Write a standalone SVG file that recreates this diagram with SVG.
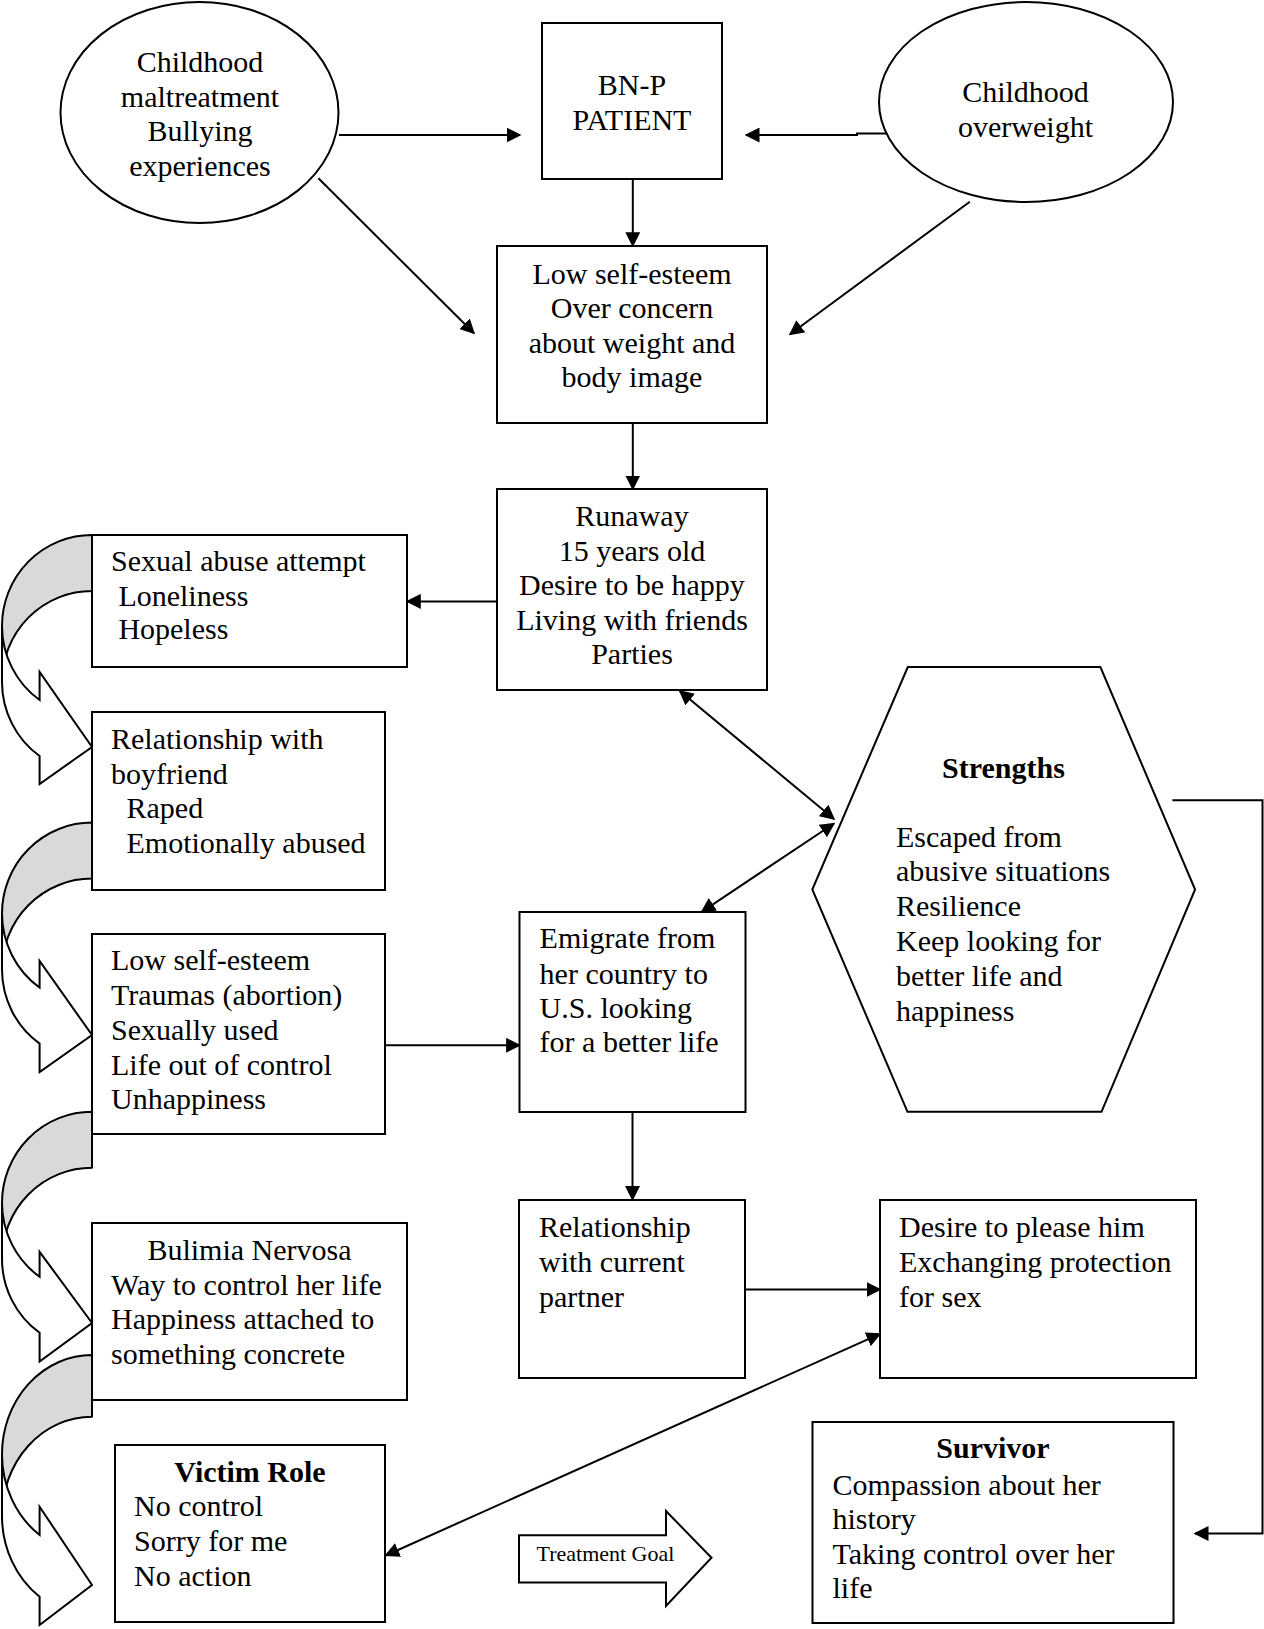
<svg xmlns="http://www.w3.org/2000/svg" width="1264" height="1629" viewBox="0 0 1264 1629">
<style>
.box{fill:#fff;stroke:#000;stroke-width:2}
.t{font-family:"Liberation Serif","Times New Roman",serif;font-size:30px;fill:#000}
.c{text-anchor:middle}
.b{font-weight:bold}
.sm{font-size:22px}
.ln{stroke:#000;stroke-width:2;fill:none}
.back{fill:#d9d9d9;stroke:#000;stroke-width:2;stroke-linejoin:round}
.front{fill:#fff;stroke:#000;stroke-width:2;stroke-linejoin:miter}
</style>
<defs>
<marker id="ah" markerUnits="userSpaceOnUse" viewBox="0 0 15 15" markerWidth="15" markerHeight="15" refX="13.5" refY="7.5" orient="auto-start-reverse">
<path d="M0,0 L15,7.5 L0,15 Z" fill="#000"/>
</marker>
</defs>
<rect width="1264" height="1629" fill="#fff"/>

<g id="curved-arrows">
<g id="ca1">
<path class="back" d="M92,535 A90,91 0 0 0 2,626 L2,682 A90,91 0 0 1 92,591 Z"/>
<path class="front" d="M2,626 A90,91 0 0 0 39.6,700 L39.6,672 L92,747 L39.6,784 L39.6,756 A90,91 0 0 1 2,682 Z"/>
</g>
<g id="ca2">
<path class="back" d="M92,822.6 A90,91 0 0 0 2,913.6 L2,969.6 A90,91 0 0 1 92,878.6 Z"/>
<path class="front" d="M2,913.6 A90,91 0 0 0 39.6,987.6 L39.6,961 L92,1035 L39.6,1072 L39.6,1043.6 A90,91 0 0 1 2,969.6 Z"/>
</g>
<g id="ca3">
<path class="back" d="M92,1111.8 A90,91 0 0 0 2,1202.8 L2,1258.8 A90,91 0 0 1 92,1167.8 Z"/>
<path class="front" d="M2,1202.8 A90,91 0 0 0 39.6,1276.8 L39.6,1251.8 L92,1323 L39.6,1361.5 L39.6,1332.8 A90,91 0 0 1 2,1258.8 Z"/>
</g>
<g id="ca4">
<path class="back" d="M92,1355 A90,99.3 0 0 0 2,1454.3 L2,1516 A90,99.3 0 0 1 92,1416.7 Z"/>
<path class="front" d="M2,1454.3 A90,99.3 0 0 0 39.6,1535 L39.6,1506.7 L92,1585 L39.6,1625 L39.6,1596.7 A90,99.3 0 0 1 2,1516 Z"/>
</g>
</g>

<g id="connectors">
<line class="ln" x1="339" y1="135" x2="520" y2="135" marker-end="url(#ah)"/>
<polyline class="ln" points="901,133.5 857,133.5 857,135 746,135" marker-end="url(#ah)"/>
<line class="ln" x1="632.8" y1="179" x2="632.8" y2="245.7" marker-end="url(#ah)"/>
<line class="ln" x1="632.8" y1="423" x2="632.8" y2="489" marker-end="url(#ah)"/>
<line class="ln" x1="318.4" y1="178.3" x2="474" y2="333.3" marker-end="url(#ah)"/>
<line class="ln" x1="969.8" y1="201.7" x2="790" y2="334.3" marker-end="url(#ah)"/>
<line class="ln" x1="497" y1="601.4" x2="407.3" y2="601.4" marker-end="url(#ah)"/>
<line class="ln" x1="679.8" y1="690.9" x2="834" y2="819" marker-start="url(#ah)" marker-end="url(#ah)"/>
<line class="ln" x1="834" y1="823.5" x2="701.7" y2="911.8" marker-start="url(#ah)" marker-end="url(#ah)"/>
<line class="ln" x1="385" y1="1045.3" x2="519.6" y2="1045.3" marker-end="url(#ah)"/>
<line class="ln" x1="632.5" y1="1112" x2="632.5" y2="1199.5" marker-end="url(#ah)"/>
<line class="ln" x1="745" y1="1289.6" x2="880" y2="1289.6" marker-end="url(#ah)"/>
<line class="ln" x1="385.7" y1="1555.5" x2="880" y2="1333.8" marker-start="url(#ah)" marker-end="url(#ah)"/>
<polyline class="ln" points="1172.4,800.3 1262.5,800.3 1262.5,1533.5 1195,1533.5" marker-end="url(#ah)"/>
</g>

<g id="childhood-maltreatment">
<ellipse class="box" cx="199.5" cy="112.5" rx="139" ry="110.5"/>
<text class="t c" x="200" y="72">Childhood</text>
<text class="t c" x="200" y="106.5">maltreatment</text>
<text class="t c" x="200" y="141">Bullying</text>
<text class="t c" x="200" y="175.5">experiences</text>
</g>

<g id="bnp-patient">
<rect class="box" x="542" y="23" width="180" height="156"/>
<text class="t c" x="632" y="95">BN-P</text>
<text class="t c" x="632" y="130">PATIENT</text>
</g>

<g id="childhood-overweight">
<ellipse class="box" cx="1026" cy="102" rx="147" ry="100"/>
<text class="t c" x="1025.5" y="102">Childhood</text>
<text class="t c" x="1025.5" y="136.5">overweight</text>
</g>

<g id="low-self-esteem-top">
<rect class="box" x="497" y="246" width="270" height="177"/>
<text class="t c" x="632" y="283.5">Low self-esteem</text>
<text class="t c" x="632" y="318">Over concern</text>
<text class="t c" x="632" y="352.5">about weight and</text>
<text class="t c" x="632" y="387">body image</text>
</g>

<g id="runaway">
<rect class="box" x="497" y="489" width="270" height="201"/>
<text class="t c" x="632" y="526">Runaway</text>
<text class="t c" x="632" y="560.5">15 years old</text>
<text class="t c" x="632" y="595">Desire to be happy</text>
<text class="t c" x="632" y="629.5">Living with friends</text>
<text class="t c" x="632" y="664">Parties</text>
</g>

<g id="sexual-abuse">
<rect class="box" x="92" y="535" width="315" height="132"/>
<text class="t" x="111" y="571">Sexual abuse attempt</text>
<text class="t" x="118.4" y="605.5">Loneliness</text>
<text class="t" x="118.4" y="639">Hopeless</text>
</g>

<g id="relationship-boyfriend">
<rect class="box" x="92" y="712" width="293" height="178"/>
<text class="t" x="111" y="749">Relationship with</text>
<text class="t" x="111" y="783.5">boyfriend</text>
<text class="t" x="126.5" y="818">Raped</text>
<text class="t" x="126.5" y="852.5">Emotionally abused</text>
</g>

<g id="low-self-esteem-left">
<rect class="box" x="92" y="934" width="293" height="200"/>
<text class="t" x="111" y="970">Low self-esteem</text>
<text class="t" x="111" y="1005">Traumas (abortion)</text>
<text class="t" x="111" y="1040">Sexually used</text>
<text class="t" x="111" y="1074.6">Life out of control</text>
<text class="t" x="111" y="1109">Unhappiness</text>
</g>

<g id="bulimia">
<rect class="box" x="92" y="1223" width="315" height="177"/>
<text class="t c" x="249.5" y="1259.8">Bulimia Nervosa</text>
<text class="t" x="111" y="1294.6">Way to control her life</text>
<text class="t" x="111" y="1329">Happiness attached to</text>
<text class="t" x="111" y="1363.7">something concrete</text>
</g>

<g id="victim-role">
<rect class="box" x="115" y="1445" width="270" height="177"/>
<text class="t c b" x="250" y="1481.8">Victim Role</text>
<text class="t" x="134" y="1515.5">No control</text>
<text class="t" x="134" y="1551">Sorry for me</text>
<text class="t" x="134" y="1586.4">No action</text>
</g>

<g id="strengths">
<polygon class="box" points="907.8,667 1100.4,667 1195.1,889.5 1101.5,1111.8 907.5,1111.8 812.3,889.5"/>
<text class="t c b" x="1003.5" y="778">Strengths</text>
<text class="t" x="896" y="846.5">Escaped from</text>
<text class="t" x="896" y="881.3">abusive situations</text>
<text class="t" x="896" y="916.1">Resilience</text>
<text class="t" x="896" y="950.9">Keep looking for</text>
<text class="t" x="896" y="985.7">better life and</text>
<text class="t" x="896" y="1020.5">happiness</text>
</g>

<g id="emigrate">
<rect class="box" x="519.5" y="912" width="226" height="200"/>
<text class="t" x="539.6" y="948.3">Emigrate from</text>
<text class="t" x="539.6" y="983.6">her country to</text>
<text class="t" x="539.6" y="1018">U.S. looking</text>
<text class="t" x="539.6" y="1052.4">for a better life</text>
</g>

<g id="relationship-partner">
<rect class="box" x="519" y="1200" width="226" height="178"/>
<text class="t" x="539" y="1237.2">Relationship</text>
<text class="t" x="539" y="1272">with current</text>
<text class="t" x="539" y="1307.4">partner</text>
</g>

<g id="desire">
<rect class="box" x="880" y="1200" width="316" height="178"/>
<text class="t" x="899" y="1237.2">Desire to please him</text>
<text class="t" x="899" y="1272">Exchanging protection</text>
<text class="t" x="899" y="1307.4">for sex</text>
</g>

<g id="treatment-goal">
<polygon class="box" points="519,1535.2 666,1535.2 666,1511 711.5,1557.8 666,1606 666,1582.5 519,1582.5"/>
<text class="t sm" x="536.5" y="1561">Treatment Goal</text>
</g>

<g id="survivor">
<rect class="box" x="812.5" y="1422" width="361" height="201"/>
<text class="t c b" x="993" y="1458">Survivor</text>
<text class="t" x="832.5" y="1494.5">Compassion about her</text>
<text class="t" x="832.5" y="1529">history</text>
<text class="t" x="832.5" y="1563.5">Taking control over her</text>
<text class="t" x="832.5" y="1598">life</text>
</g>
</svg>
